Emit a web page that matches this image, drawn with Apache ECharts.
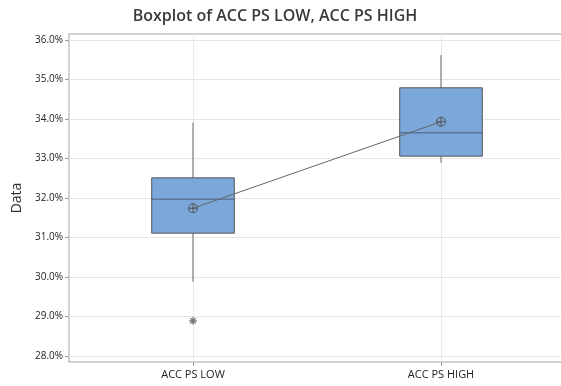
<!DOCTYPE html>
<html>
<head>
<meta charset="utf-8">
<script src="https://cdn.jsdelivr.net/npm/echarts@6/dist/echarts.min.js"></script>
<style>html,body{margin:0;padding:0;background:#fff}#c{width:561px;height:386px}</style>
</head>
<body>
<div id="c"></div>
<script>
const categories = ['ACC PS LOW', 'ACC PS HIGH'];
// [whiskerLow, Q1, median, Q3, whiskerHigh]
const boxStats = [
  [29.88, 31.11, 31.97, 32.51, 33.91],
  [32.89, 33.06, 33.65, 34.79, 35.62]
];
const means = [31.74, 33.93];
const outliers = [[0, 28.89]];
const yTicks = [28, 29, 30, 31, 32, 33, 34, 35, 36];

const FONT = '"Open Sans", "Noto Sans", sans-serif';
const chart = echarts.init(document.getElementById('c'));

const meanSymbol = 'path://M0,5 A5,5 0 1,1 10,5 A5,5 0 1,1 0,5 Z M5,0 L5,10 M0,5 L10,5';
const starSymbol = 'path://M5,0 L5,10 M0,5 L10,5 M1.5,1.5 L8.5,8.5 M8.5,1.5 L1.5,8.5';

chart.setOption({
  animation: false,
  backgroundColor: '#fff',
  title: {
    text: 'Boxplot of ACC PS LOW, ACC PS HIGH',
    left: 270, textAlign: 'center', top: 3,
    textStyle: { fontFamily: FONT, fontSize: 16, fontWeight: 600, color: '#3a3a3a' }
  },
  grid: {
    left: 69, width: 496, top: 34, bottom: 24,
    containLabel: false, outerBoundsMode: 'none',
    show: true, borderColor: '#c4c4c4', borderWidth: 1.5, backgroundColor: 'transparent'
  },
  xAxis: [
    {
      type: 'category', data: categories, boundaryGap: true,
      axisLine: { show: false },
      axisTick: { show: true, alignWithLabel: true, length: 4, lineStyle: { color: '#999' } },
      axisLabel: { fontFamily: FONT, fontSize: 11, color: '#222', margin: 7 },
      splitLine: { show: false }
    },
    {
      type: 'value', min: -0.5, max: 1.5, position: 'bottom',
      axisLine: { show: false, onZero: false }, axisLabel: { show: false },
      axisTick: { show: false, customValues: [0, 1] },
      splitLine: { show: true, lineStyle: { color: '#ebebeb', width: 1 } }
    }
  ],
  yAxis: {
    type: 'value', min: 27.848, max: 36.152,
    name: 'Data', nameLocation: 'middle', nameGap: 44,
    nameTextStyle: { fontFamily: FONT, fontSize: 14, color: '#333' },
    axisLine: { show: false, onZero: false },
    axisTick: { show: true, length: 4, customValues: yTicks, lineStyle: { color: '#999' } },
    axisLabel: { customValues: yTicks, fontFamily: FONT, fontSize: 10, color: '#222', margin: 6,
      formatter: v => v.toFixed(1) + '%' },
    splitLine: { show: true, lineStyle: { color: '#e6e6e6', width: 1 } }
  },
  series: [
    {
      type: 'custom',
      xAxisIndex: 0, yAxisIndex: 0,
      data: boxStats.map((s, i) => [i].concat(s)),
      encode: { x: 0, y: [1, 2, 3, 4, 5] },
      renderItem: function (params, api) {
        const i = api.value(0);
        const lo = api.coord([i, api.value(1)]);
        const q1 = api.coord([i, api.value(2)]);
        const md = api.coord([i, api.value(3)]);
        const q3 = api.coord([i, api.value(4)]);
        const hi = api.coord([i, api.value(5)]);
        const bw = api.size([1, 0])[0] * 0.333;
        const x = q1[0];
        const stroke = { stroke: '#666', lineWidth: 1 };
        return {
          type: 'group',
          children: [
            { type: 'line', shape: { x1: x, y1: hi[1], x2: x, y2: q3[1] }, style: stroke },
            { type: 'line', shape: { x1: x, y1: q1[1], x2: x, y2: lo[1] }, style: stroke },
            { type: 'rect', shape: { x: x - bw / 2, y: q3[1], width: bw, height: q1[1] - q3[1] },
              style: { fill: '#7ba7db', stroke: '#555', lineWidth: 1 } },
            { type: 'line', shape: { x1: x - bw / 2, y1: md[1], x2: x + bw / 2, y2: md[1] },
              style: { stroke: '#4d5f7a', lineWidth: 1 } }
          ]
        };
      },
      z: 2
    },
    {
      type: 'line', xAxisIndex: 0, yAxisIndex: 0,
      data: means,
      symbol: meanSymbol, symbolSize: 9,
      lineStyle: { color: '#666', width: 1 },
      itemStyle: { color: 'rgba(0,0,0,0)', borderColor: '#555', borderWidth: 1 },
      z: 3
    },
    {
      type: 'scatter', xAxisIndex: 0, yAxisIndex: 0,
      data: outliers,
      symbol: starSymbol, symbolSize: 8,
      itemStyle: { color: 'rgba(0,0,0,0)', borderColor: '#555', borderWidth: 1.2 },
      z: 3
    }
  ]
});
</script>
</body>
</html>
